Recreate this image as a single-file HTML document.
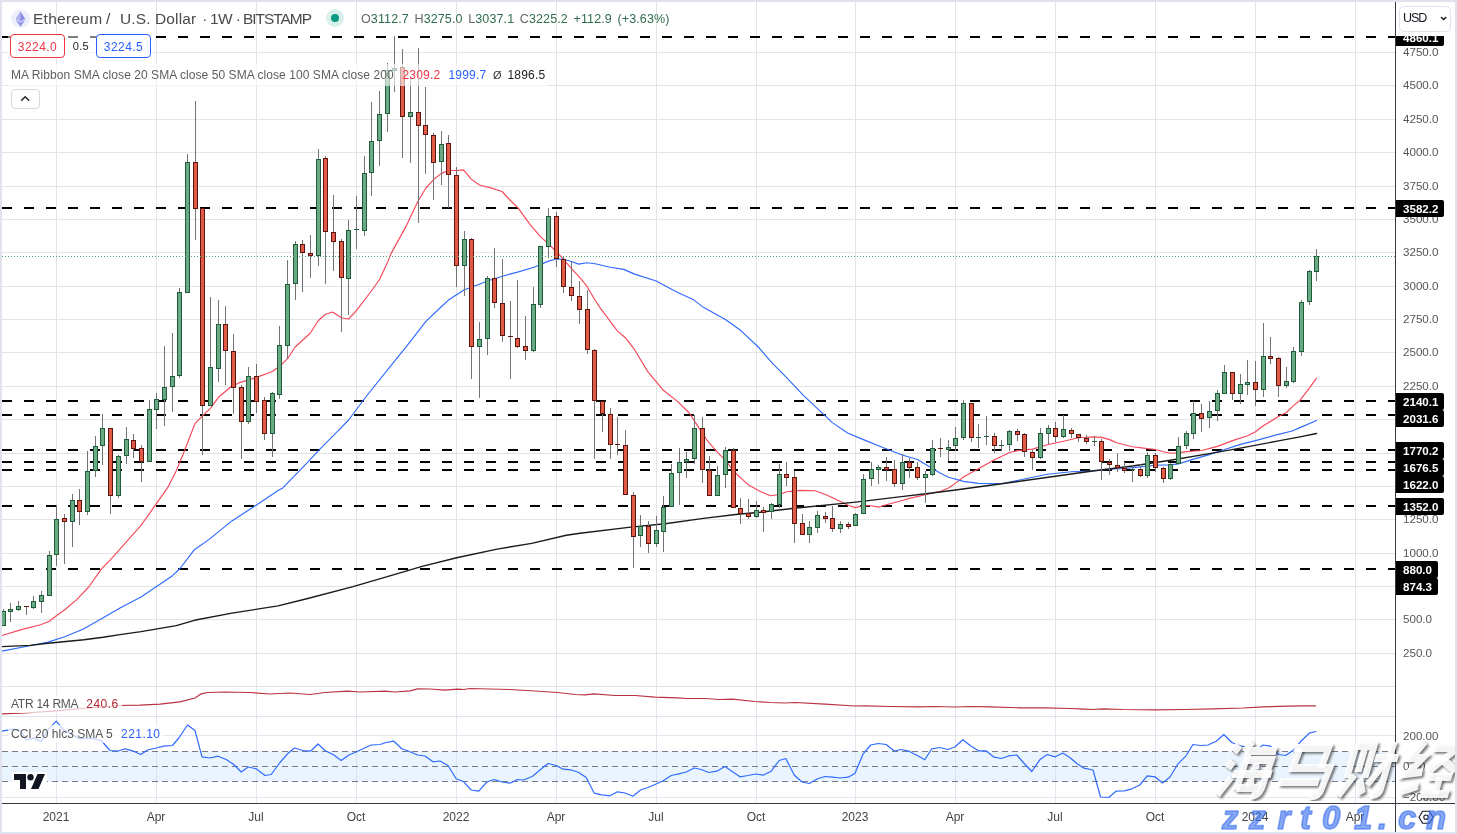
<!DOCTYPE html><html><head><meta charset="utf-8"><title>chart</title><style>
html,body{margin:0;padding:0;background:#fff;}
body{-webkit-font-smoothing:antialiased;width:1457px;height:834px;position:relative;overflow:hidden;font-family:"Liberation Sans",sans-serif;}
.abs{position:absolute;white-space:nowrap;}
#ov{position:absolute;left:0;top:0;width:1457px;height:834px;will-change:transform;}
.ax{position:absolute;left:1403px;font-size:11.6px;color:#555;line-height:14px;height:14px;white-space:nowrap;}
.lb{position:absolute;left:1395px;width:49px;height:17px;background:#000;color:#fff;font-weight:bold;font-size:11.6px;line-height:17px;border-radius:0 2px 2px 0;text-indent:8px;white-space:nowrap;}
.tx{position:absolute;top:810px;font-size:12px;color:#444;line-height:14px;width:60px;text-align:center;white-space:nowrap;}
</style></head><body>
<svg width="1457" height="834" viewBox="0 0 1457 834" style="position:absolute;left:0;top:0" shape-rendering="crispEdges">
<rect x="0" y="0" width="1457" height="834" fill="#fff"/>
<rect x="56" y="2" width="1" height="684" fill="#e4e4e4"/>
<rect x="56" y="687" width="1" height="116" fill="#e3e6ee"/>
<rect x="156" y="2" width="1" height="684" fill="#e4e4e4"/>
<rect x="156" y="687" width="1" height="116" fill="#e3e6ee"/>
<rect x="256" y="2" width="1" height="684" fill="#e4e4e4"/>
<rect x="256" y="687" width="1" height="116" fill="#e3e6ee"/>
<rect x="356" y="2" width="1" height="684" fill="#e4e4e4"/>
<rect x="356" y="687" width="1" height="116" fill="#e3e6ee"/>
<rect x="456" y="2" width="1" height="684" fill="#e4e4e4"/>
<rect x="456" y="687" width="1" height="116" fill="#e3e6ee"/>
<rect x="556" y="2" width="1" height="684" fill="#e4e4e4"/>
<rect x="556" y="687" width="1" height="116" fill="#e3e6ee"/>
<rect x="656" y="2" width="1" height="684" fill="#e4e4e4"/>
<rect x="656" y="687" width="1" height="116" fill="#e3e6ee"/>
<rect x="756" y="2" width="1" height="684" fill="#e4e4e4"/>
<rect x="756" y="687" width="1" height="116" fill="#e3e6ee"/>
<rect x="855" y="2" width="1" height="684" fill="#e4e4e4"/>
<rect x="855" y="687" width="1" height="116" fill="#e3e6ee"/>
<rect x="955" y="2" width="1" height="684" fill="#e4e4e4"/>
<rect x="955" y="687" width="1" height="116" fill="#e3e6ee"/>
<rect x="1055" y="2" width="1" height="684" fill="#e4e4e4"/>
<rect x="1055" y="687" width="1" height="116" fill="#e3e6ee"/>
<rect x="1155" y="2" width="1" height="684" fill="#e4e4e4"/>
<rect x="1155" y="687" width="1" height="116" fill="#e3e6ee"/>
<rect x="1255" y="2" width="1" height="684" fill="#e4e4e4"/>
<rect x="1255" y="687" width="1" height="116" fill="#e3e6ee"/>
<rect x="1355" y="2" width="1" height="684" fill="#e4e4e4"/>
<rect x="1355" y="687" width="1" height="116" fill="#e3e6ee"/>
<rect x="2" y="52" width="1393" height="1" fill="#e4e4e4"/>
<rect x="2" y="85" width="1393" height="1" fill="#e4e4e4"/>
<rect x="2" y="119" width="1393" height="1" fill="#e4e4e4"/>
<rect x="2" y="152" width="1393" height="1" fill="#e4e4e4"/>
<rect x="2" y="186" width="1393" height="1" fill="#e4e4e4"/>
<rect x="2" y="219" width="1393" height="1" fill="#e4e4e4"/>
<rect x="2" y="252" width="1393" height="1" fill="#e4e4e4"/>
<rect x="2" y="286" width="1393" height="1" fill="#e4e4e4"/>
<rect x="2" y="319" width="1393" height="1" fill="#e4e4e4"/>
<rect x="2" y="352" width="1393" height="1" fill="#e4e4e4"/>
<rect x="2" y="386" width="1393" height="1" fill="#e4e4e4"/>
<rect x="2" y="419" width="1393" height="1" fill="#e4e4e4"/>
<rect x="2" y="453" width="1393" height="1" fill="#e4e4e4"/>
<rect x="2" y="486" width="1393" height="1" fill="#e4e4e4"/>
<rect x="2" y="519" width="1393" height="1" fill="#e4e4e4"/>
<rect x="2" y="553" width="1393" height="1" fill="#e4e4e4"/>
<rect x="2" y="586" width="1393" height="1" fill="#e4e4e4"/>
<rect x="2" y="619" width="1393" height="1" fill="#e4e4e4"/>
<rect x="2" y="653" width="1393" height="1" fill="#e4e4e4"/>
<rect x="2" y="751" width="1393" height="31" fill="#e9f4fe"/>
<rect x="2" y="735" width="1393" height="1" fill="#e3e6ee"/>
<rect x="2" y="797" width="1393" height="1" fill="#e3e6ee"/>
<rect x="56" y="751" width="1" height="31" fill="#d9e3ee"/>
<rect x="156" y="751" width="1" height="31" fill="#d9e3ee"/>
<rect x="256" y="751" width="1" height="31" fill="#d9e3ee"/>
<rect x="356" y="751" width="1" height="31" fill="#d9e3ee"/>
<rect x="456" y="751" width="1" height="31" fill="#d9e3ee"/>
<rect x="556" y="751" width="1" height="31" fill="#d9e3ee"/>
<rect x="656" y="751" width="1" height="31" fill="#d9e3ee"/>
<rect x="756" y="751" width="1" height="31" fill="#d9e3ee"/>
<rect x="855" y="751" width="1" height="31" fill="#d9e3ee"/>
<rect x="955" y="751" width="1" height="31" fill="#d9e3ee"/>
<rect x="1055" y="751" width="1" height="31" fill="#d9e3ee"/>
<rect x="1155" y="751" width="1" height="31" fill="#d9e3ee"/>
<rect x="1255" y="751" width="1" height="31" fill="#d9e3ee"/>
<rect x="1355" y="751" width="1" height="31" fill="#d9e3ee"/>
<rect x="2" y="686" width="1453" height="1" fill="#e0e3eb"/>
<rect x="2" y="716" width="1453" height="1" fill="#e0e3eb"/>
<line x1="2" y1="751.5" x2="1395" y2="751.5" stroke="#787b86" stroke-width="1" stroke-dasharray="6 4"/>
<line x1="2" y1="766.5" x2="1395" y2="766.5" stroke="#787b86" stroke-width="1" stroke-dasharray="6 4"/>
<line x1="2" y1="781.5" x2="1395" y2="781.5" stroke="#787b86" stroke-width="1" stroke-dasharray="6 4"/>
<line x1="2" y1="37" x2="1395" y2="37" stroke="#000" stroke-width="2" stroke-dasharray="10 12"/>
<line x1="2" y1="208" x2="1395" y2="208" stroke="#000" stroke-width="2" stroke-dasharray="10 12"/>
<line x1="2" y1="401" x2="1395" y2="401" stroke="#000" stroke-width="2" stroke-dasharray="10 12"/>
<line x1="2" y1="415" x2="1395" y2="415" stroke="#000" stroke-width="2" stroke-dasharray="10 12"/>
<line x1="2" y1="450" x2="1395" y2="450" stroke="#000" stroke-width="2" stroke-dasharray="10 12"/>
<line x1="2" y1="462" x2="1395" y2="462" stroke="#000" stroke-width="2" stroke-dasharray="10 12"/>
<line x1="2" y1="470" x2="1395" y2="470" stroke="#000" stroke-width="2" stroke-dasharray="10 12"/>
<line x1="2" y1="506" x2="1395" y2="506" stroke="#000" stroke-width="2" stroke-dasharray="10 12"/>
<line x1="2" y1="569" x2="1395" y2="569" stroke="#000" stroke-width="2" stroke-dasharray="10 12"/>
</svg>
<svg width="1457" height="834" viewBox="0 0 1457 834" style="position:absolute;left:0;top:0">
<polyline points="1.8,635.5 24.0,628.9 40.8,624.7 49.2,621.2 56.4,615.8 64.7,609.8 76.7,599.6 88.7,587.0 101.9,568.4 110.8,559.3 141.0,525.3 156.2,503.9 167.5,487.9 175.7,472.1 183.9,452.2 194.9,423.7 202.5,415.9 210.4,408.3 218.5,397.3 230.6,387.0 238.8,382.9 256.4,377.4 271.8,371.8 280.0,366.0 287.6,358.7 295.1,347.0 310.2,333.3 318.4,320.5 325.5,314.2 332.5,312.0 341.5,317.8 348.6,319.0 356.6,310.4 371.7,290.5 379.5,279.5 387.5,262.4 390.9,253.9 406.7,225.1 417.7,201.8 425.9,188.0 433.4,179.8 441.0,173.6 448.5,170.5 456.5,170.5 463.6,169.9 471.2,179.1 479.4,185.0 490.0,187.6 502.0,191.5 510.0,200.0 518.2,208.2 529.2,223.3 540.2,236.4 548.4,243.9 556.4,251.5 563.5,259.3 571.5,268.6 579.3,276.9 586.6,285.8 595.1,300.2 600.0,307.6 617.3,330.9 625.9,338.3 634.6,349.7 647.6,371.4 662.7,389.7 677.8,401.6 689.7,413.5 697.3,425.4 707.7,441.2 717.3,452.2 725.5,460.4 735.1,472.8 748.6,485.1 759.8,491.3 770.3,495.7 779.4,494.5 786.5,491.8 801.2,490.4 814.9,490.8 825.5,494.5 840.4,501.4 848.5,505.5 855.7,507.6 863.6,505.5 871.5,505.8 878.5,507.1 886.4,504.8 901.5,500.7 909.5,498.4 925.4,494.8 940.5,491.2 948.5,488.0 955.5,483.1 963.5,477.0 978.3,468.7 994.5,459.8 1009.6,452.5 1017.4,450.6 1032.5,449.1 1047.4,444.7 1063.4,441.3 1078.5,437.8 1094.4,436.9 1101.6,437.4 1109.5,439.6 1117.5,443.0 1132.5,446.8 1147.4,448.6 1155.5,449.5 1163.4,451.8 1171.4,453.2 1178.5,452.9 1186.5,451.6 1201.6,450.5 1217.4,446.4 1232.5,440.6 1247.6,435.8 1255.5,431.7 1263.3,425.8 1278.4,416.6 1286.4,412.5 1293.5,405.6 1300.0,400.3 1309.5,387.8 1316.5,378.2" fill="none" stroke="#f5475a" stroke-width="1.15" stroke-linejoin="round" stroke-linecap="round"/>
<polyline points="1.8,651.1 30.0,645.7 48.0,642.1 64.7,636.7 83.5,629.0 103.2,617.8 120.0,608.0 141.0,597.1 172.5,575.7 180.0,568.5 194.4,549.7 208.8,539.6 231.9,520.9 255.0,505.9 278.0,490.6 282.8,487.9 306.8,463.2 318.4,450.6 340.0,428.9 348.6,420.0 365.0,398.0 392.3,363.9 406.7,346.1 425.9,321.4 441.0,307.0 448.5,300.1 464.3,289.8 471.6,287.3 487.4,281.0 502.5,276.2 517.6,272.1 534.7,267.0 548.4,261.1 556.4,259.0 563.5,259.3 571.5,261.5 578.6,264.1 586.6,262.7 595.1,263.8 610.2,267.3 623.8,269.4 634.6,274.1 656.2,281.0 675.7,291.4 693.0,299.4 703.8,307.6 725.4,319.5 740.5,330.3 757.8,346.5 773.0,363.8 785.9,376.8 803.2,395.1 824.9,415.7 832.4,422.6 847.6,433.0 861.6,438.9 883.5,447.8 901.5,454.7 917.4,459.5 932.5,468.4 940.5,473.2 948.5,477.2 963.5,481.4 978.3,483.4 1001.4,483.8 1024.4,479.0 1047.4,474.2 1071.4,471.8 1094.4,470.8 1109.5,469.3 1124.4,468.5 1140.5,466.9 1155.5,465.3 1170.4,464.9 1178.5,463.9 1193.6,459.1 1209.4,454.6 1224.5,449.5 1240.4,444.4 1255.5,440.6 1278.4,434.4 1292.2,431.0 1300.0,427.6 1316.5,420.5" fill="none" stroke="#2f6bff" stroke-width="1.15" stroke-linejoin="round" stroke-linecap="round"/>
<polyline points="1.8,646.6 30.0,645.4 48.0,643.3 83.9,639.7 103.1,637.3 120.0,634.6 141.0,631.6 176.3,625.6 194.4,620.3 231.9,613.1 278.0,605.9 306.8,598.7 353.0,586.6 393.3,574.8 422.1,566.4 456.7,557.8 497.1,549.1 531.7,543.4 566.3,535.3 580.0,533.3 630.8,527.1 665.1,523.7 703.5,518.4 737.9,514.3 760.0,512.3 794.3,508.2 855.7,502.1 901.5,496.6 930.0,493.2 955.5,490.0 1001.4,483.8 1055.3,476.3 1094.4,470.8 1132.5,466.0 1170.4,460.2 1209.4,453.6 1240.4,448.1 1278.4,440.9 1300.0,436.9 1316.5,433.5" fill="none" stroke="#1a1a1a" stroke-width="1.4" stroke-linejoin="round" stroke-linecap="round"/>
<polyline points="2.0,713.8 25.0,713.0 56.2,710.8 87.5,708.0 117.5,705.5 140.0,705.2 160.0,704.2 180.0,701.8 195.0,698.0 201.2,693.8 207.5,692.5 225.0,692.0 250.0,692.5 270.0,694.0 290.0,693.0 310.0,694.5 325.0,692.5 347.5,691.2 360.0,692.0 385.0,691.2 395.0,692.0 410.0,690.8 417.5,688.8 430.0,689.0 445.0,690.2 457.5,689.2 463.8,689.5 470.0,688.5 490.0,689.0 510.0,689.5 535.0,691.0 557.5,692.5 575.0,694.5 585.0,694.8 593.8,693.8 615.0,695.5 635.0,695.5 655.0,697.2 677.5,697.8 687.5,698.5 705.0,698.5 720.0,699.5 732.5,699.2 755.0,701.5 770.0,702.5 785.0,703.0 795.0,702.5 825.0,704.2 855.0,706.0 865.0,705.8 890.0,706.5 920.0,706.8 932.5,706.5 955.0,707.0 970.0,706.5 990.0,706.8 1020.0,707.8 1045.0,707.8 1070.0,708.5 1084.0,709.2 1093.0,709.5 1103.0,708.8 1123.0,709.5 1155.5,709.8 1185.5,709.5 1213.0,708.8 1243.0,708.0 1263.0,706.8 1288.0,706.2 1303.0,705.8 1315.5,705.8" fill="none" stroke="#b8323f" stroke-width="1.2" stroke-linejoin="round" stroke-linecap="round"/>
<polyline points="2.0,731.2 12.5,729.2 20.0,730.0 26.2,740.0 33.8,738.2 41.2,741.5 48.8,728.8 56.2,721.2 63.8,730.0 71.2,733.8 78.8,738.8 86.2,738.0 93.8,738.8 101.2,740.5 110.0,750.5 117.5,751.2 125.0,748.8 132.5,750.8 140.8,754.5 147.5,750.0 156.2,748.0 163.8,746.2 172.5,745.5 178.8,738.0 187.5,725.0 195.0,730.5 202.0,756.8 210.0,758.0 218.0,756.2 226.2,759.5 233.8,764.5 241.2,772.0 248.2,767.0 256.2,768.8 265.0,775.5 271.2,774.5 280.0,762.5 287.5,753.8 294.5,748.0 302.5,750.5 310.5,751.2 318.0,744.0 325.0,750.5 333.8,755.0 341.2,760.5 348.8,755.0 356.2,752.0 364.0,748.2 371.2,745.0 380.0,744.5 386.2,742.5 393.8,741.2 401.8,748.8 410.0,751.8 417.5,755.0 425.0,756.0 433.0,761.8 440.0,761.0 448.0,765.5 456.2,778.8 463.8,781.8 471.2,790.0 478.8,791.2 486.8,782.0 494.2,779.5 502.0,782.0 510.0,783.2 517.5,779.5 523.8,780.0 532.5,776.2 540.5,769.5 548.2,763.5 556.2,765.5 563.2,769.2 570.8,769.8 578.8,772.5 586.2,777.5 594.2,793.2 601.8,794.8 610.0,795.8 617.5,791.8 625.0,793.0 633.0,796.2 640.5,790.0 648.0,787.5 655.5,784.2 663.2,780.8 671.2,775.5 678.8,773.8 686.2,772.0 694.2,768.0 701.2,769.5 708.8,772.5 716.8,771.2 725.0,766.5 732.5,771.8 740.0,776.8 748.0,775.5 755.8,774.0 763.0,775.2 771.2,771.2 779.2,760.5 785.8,758.5 794.2,775.0 802.0,782.0 809.2,783.5 817.5,778.8 825.0,776.5 832.5,777.2 840.0,778.0 848.2,777.2 855.0,773.2 863.0,754.2 870.8,745.0 878.2,743.5 886.2,744.5 894.2,751.0 901.2,749.5 909.0,751.2 917.2,755.5 924.8,759.8 931.8,748.8 939.8,747.5 947.8,749.5 954.8,747.0 962.8,739.8 970.5,745.8 978.5,750.8 986.0,750.8 994.0,757.2 1001.5,758.5 1009.0,755.8 1016.8,755.0 1024.2,763.5 1031.8,771.5 1039.8,759.8 1047.2,754.5 1055.2,756.8 1062.8,753.0 1069.8,757.5 1077.2,763.8 1084.0,768.2 1093.0,770.0 1100.5,797.0 1108.8,797.5 1116.0,791.2 1124.2,790.8 1131.8,788.8 1139.8,785.0 1147.2,775.8 1155.0,776.8 1162.5,783.0 1170.0,777.0 1178.0,763.8 1186.0,755.8 1193.0,744.5 1200.5,745.5 1208.0,745.0 1216.2,741.2 1223.8,734.5 1231.8,742.5 1239.8,745.8 1247.2,747.0 1255.0,751.2 1263.0,745.0 1270.5,746.2 1278.5,754.5 1285.5,755.5 1293.0,750.5 1301.0,741.2 1309.2,733.2 1316.0,731.5" fill="none" stroke="#2f6bff" stroke-width="1.2" stroke-linejoin="round" stroke-linecap="round"/>
</svg>
<svg width="1457" height="834" viewBox="0 0 1457 834" style="position:absolute;left:0;top:0" shape-rendering="crispEdges">
<rect x="3" y="609" width="1" height="17" fill="#737373"/>
<rect x="1" y="611" width="5" height="15" fill="#1f5c3a"/>
<rect x="2" y="612" width="3" height="13" fill="#6aa984"/>
<rect x="10" y="603" width="1" height="19" fill="#737373"/>
<rect x="8" y="609" width="5" height="3" fill="#1f5c3a"/>
<rect x="9" y="610" width="3" height="1" fill="#6aa984"/>
<rect x="18" y="601" width="1" height="10" fill="#737373"/>
<rect x="16" y="606" width="5" height="4" fill="#1f5c3a"/>
<rect x="17" y="607" width="3" height="2" fill="#6aa984"/>
<rect x="26" y="606" width="1" height="9" fill="#737373"/>
<rect x="24" y="606" width="5" height="1" fill="#5c1510"/>
<rect x="33" y="596" width="1" height="13" fill="#737373"/>
<rect x="31" y="601" width="5" height="7" fill="#1f5c3a"/>
<rect x="32" y="602" width="3" height="5" fill="#6aa984"/>
<rect x="41" y="591" width="1" height="22" fill="#737373"/>
<rect x="39" y="595" width="5" height="7" fill="#1f5c3a"/>
<rect x="40" y="596" width="3" height="5" fill="#6aa984"/>
<rect x="49" y="551" width="1" height="45" fill="#737373"/>
<rect x="47" y="555" width="5" height="41" fill="#1f5c3a"/>
<rect x="48" y="556" width="3" height="39" fill="#6aa984"/>
<rect x="56" y="505" width="1" height="61" fill="#737373"/>
<rect x="54" y="519" width="5" height="36" fill="#1f5c3a"/>
<rect x="55" y="520" width="3" height="34" fill="#6aa984"/>
<rect x="64" y="514" width="1" height="50" fill="#737373"/>
<rect x="62" y="518" width="5" height="4" fill="#5c1510"/>
<rect x="63" y="519" width="3" height="2" fill="#e05a46"/>
<rect x="72" y="494" width="1" height="53" fill="#737373"/>
<rect x="70" y="500" width="5" height="22" fill="#1f5c3a"/>
<rect x="71" y="501" width="3" height="20" fill="#6aa984"/>
<rect x="79" y="489" width="1" height="36" fill="#737373"/>
<rect x="77" y="500" width="5" height="12" fill="#5c1510"/>
<rect x="78" y="501" width="3" height="10" fill="#e05a46"/>
<rect x="87" y="451" width="1" height="64" fill="#737373"/>
<rect x="85" y="471" width="5" height="41" fill="#1f5c3a"/>
<rect x="86" y="472" width="3" height="39" fill="#6aa984"/>
<rect x="95" y="436" width="1" height="41" fill="#737373"/>
<rect x="93" y="446" width="5" height="25" fill="#1f5c3a"/>
<rect x="94" y="447" width="3" height="23" fill="#6aa984"/>
<rect x="102" y="414" width="1" height="51" fill="#737373"/>
<rect x="100" y="428" width="5" height="18" fill="#1f5c3a"/>
<rect x="101" y="429" width="3" height="16" fill="#6aa984"/>
<rect x="110" y="428" width="1" height="86" fill="#737373"/>
<rect x="108" y="428" width="5" height="68" fill="#5c1510"/>
<rect x="109" y="429" width="3" height="66" fill="#e05a46"/>
<rect x="118" y="455" width="1" height="43" fill="#737373"/>
<rect x="116" y="456" width="5" height="40" fill="#1f5c3a"/>
<rect x="117" y="457" width="3" height="38" fill="#6aa984"/>
<rect x="126" y="427" width="1" height="37" fill="#737373"/>
<rect x="124" y="439" width="5" height="17" fill="#1f5c3a"/>
<rect x="125" y="440" width="3" height="15" fill="#6aa984"/>
<rect x="133" y="434" width="1" height="24" fill="#737373"/>
<rect x="131" y="440" width="5" height="9" fill="#5c1510"/>
<rect x="132" y="441" width="3" height="7" fill="#e05a46"/>
<rect x="141" y="445" width="1" height="37" fill="#737373"/>
<rect x="139" y="448" width="5" height="14" fill="#5c1510"/>
<rect x="140" y="449" width="3" height="12" fill="#e05a46"/>
<rect x="149" y="400" width="1" height="62" fill="#737373"/>
<rect x="147" y="409" width="5" height="53" fill="#1f5c3a"/>
<rect x="148" y="410" width="3" height="51" fill="#6aa984"/>
<rect x="156" y="393" width="1" height="36" fill="#737373"/>
<rect x="154" y="399" width="5" height="11" fill="#1f5c3a"/>
<rect x="155" y="400" width="3" height="9" fill="#6aa984"/>
<rect x="164" y="346" width="1" height="80" fill="#737373"/>
<rect x="162" y="387" width="5" height="13" fill="#1f5c3a"/>
<rect x="163" y="388" width="3" height="11" fill="#6aa984"/>
<rect x="172" y="333" width="1" height="79" fill="#737373"/>
<rect x="170" y="376" width="5" height="11" fill="#1f5c3a"/>
<rect x="171" y="377" width="3" height="9" fill="#6aa984"/>
<rect x="179" y="288" width="1" height="90" fill="#737373"/>
<rect x="177" y="292" width="5" height="84" fill="#1f5c3a"/>
<rect x="178" y="293" width="3" height="82" fill="#6aa984"/>
<rect x="187" y="154" width="1" height="139" fill="#737373"/>
<rect x="185" y="162" width="5" height="131" fill="#1f5c3a"/>
<rect x="186" y="163" width="3" height="129" fill="#6aa984"/>
<rect x="195" y="101" width="1" height="139" fill="#737373"/>
<rect x="193" y="162" width="5" height="47" fill="#5c1510"/>
<rect x="194" y="163" width="3" height="45" fill="#e05a46"/>
<rect x="202" y="208" width="1" height="247" fill="#737373"/>
<rect x="200" y="208" width="5" height="198" fill="#5c1510"/>
<rect x="201" y="209" width="3" height="196" fill="#e05a46"/>
<rect x="210" y="297" width="1" height="109" fill="#737373"/>
<rect x="208" y="367" width="5" height="39" fill="#1f5c3a"/>
<rect x="209" y="368" width="3" height="37" fill="#6aa984"/>
<rect x="218" y="300" width="1" height="82" fill="#737373"/>
<rect x="216" y="324" width="5" height="45" fill="#1f5c3a"/>
<rect x="217" y="325" width="3" height="43" fill="#6aa984"/>
<rect x="225" y="306" width="1" height="79" fill="#737373"/>
<rect x="223" y="324" width="5" height="27" fill="#5c1510"/>
<rect x="224" y="325" width="3" height="25" fill="#e05a46"/>
<rect x="233" y="334" width="1" height="80" fill="#737373"/>
<rect x="231" y="351" width="5" height="37" fill="#5c1510"/>
<rect x="232" y="352" width="3" height="35" fill="#e05a46"/>
<rect x="241" y="385" width="1" height="74" fill="#737373"/>
<rect x="239" y="387" width="5" height="35" fill="#5c1510"/>
<rect x="240" y="388" width="3" height="33" fill="#e05a46"/>
<rect x="248" y="367" width="1" height="57" fill="#737373"/>
<rect x="246" y="376" width="5" height="46" fill="#1f5c3a"/>
<rect x="247" y="377" width="3" height="44" fill="#6aa984"/>
<rect x="256" y="364" width="1" height="49" fill="#737373"/>
<rect x="254" y="376" width="5" height="26" fill="#5c1510"/>
<rect x="255" y="377" width="3" height="24" fill="#e05a46"/>
<rect x="264" y="397" width="1" height="43" fill="#737373"/>
<rect x="262" y="400" width="5" height="34" fill="#5c1510"/>
<rect x="263" y="401" width="3" height="32" fill="#e05a46"/>
<rect x="272" y="392" width="1" height="65" fill="#737373"/>
<rect x="270" y="393" width="5" height="41" fill="#1f5c3a"/>
<rect x="271" y="394" width="3" height="39" fill="#6aa984"/>
<rect x="279" y="326" width="1" height="73" fill="#737373"/>
<rect x="277" y="345" width="5" height="50" fill="#1f5c3a"/>
<rect x="278" y="346" width="3" height="48" fill="#6aa984"/>
<rect x="287" y="260" width="1" height="99" fill="#737373"/>
<rect x="285" y="284" width="5" height="62" fill="#1f5c3a"/>
<rect x="286" y="285" width="3" height="60" fill="#6aa984"/>
<rect x="295" y="241" width="1" height="59" fill="#737373"/>
<rect x="293" y="244" width="5" height="40" fill="#1f5c3a"/>
<rect x="294" y="245" width="3" height="38" fill="#6aa984"/>
<rect x="302" y="240" width="1" height="52" fill="#737373"/>
<rect x="300" y="244" width="5" height="9" fill="#5c1510"/>
<rect x="301" y="245" width="3" height="7" fill="#e05a46"/>
<rect x="310" y="235" width="1" height="43" fill="#737373"/>
<rect x="308" y="253" width="5" height="3" fill="#5c1510"/>
<rect x="309" y="254" width="3" height="1" fill="#e05a46"/>
<rect x="318" y="149" width="1" height="117" fill="#737373"/>
<rect x="316" y="159" width="5" height="97" fill="#1f5c3a"/>
<rect x="317" y="160" width="3" height="95" fill="#6aa984"/>
<rect x="325" y="156" width="1" height="128" fill="#737373"/>
<rect x="323" y="158" width="5" height="74" fill="#5c1510"/>
<rect x="324" y="159" width="3" height="72" fill="#e05a46"/>
<rect x="333" y="195" width="1" height="76" fill="#737373"/>
<rect x="331" y="232" width="5" height="10" fill="#5c1510"/>
<rect x="332" y="233" width="3" height="8" fill="#e05a46"/>
<rect x="341" y="239" width="1" height="93" fill="#737373"/>
<rect x="339" y="241" width="5" height="37" fill="#5c1510"/>
<rect x="340" y="242" width="3" height="35" fill="#e05a46"/>
<rect x="348" y="220" width="1" height="95" fill="#737373"/>
<rect x="346" y="230" width="5" height="49" fill="#1f5c3a"/>
<rect x="347" y="231" width="3" height="47" fill="#6aa984"/>
<rect x="356" y="196" width="1" height="53" fill="#737373"/>
<rect x="354" y="229" width="5" height="1" fill="#1f5c3a"/>
<rect x="364" y="156" width="1" height="80" fill="#737373"/>
<rect x="362" y="173" width="5" height="58" fill="#1f5c3a"/>
<rect x="363" y="174" width="3" height="56" fill="#6aa984"/>
<rect x="371" y="102" width="1" height="94" fill="#737373"/>
<rect x="369" y="141" width="5" height="32" fill="#1f5c3a"/>
<rect x="370" y="142" width="3" height="30" fill="#6aa984"/>
<rect x="379" y="91" width="1" height="75" fill="#737373"/>
<rect x="377" y="114" width="5" height="27" fill="#1f5c3a"/>
<rect x="378" y="115" width="3" height="25" fill="#6aa984"/>
<rect x="387" y="63" width="1" height="69" fill="#737373"/>
<rect x="385" y="70" width="5" height="44" fill="#1f5c3a"/>
<rect x="386" y="71" width="3" height="42" fill="#6aa984"/>
<rect x="394" y="36" width="1" height="56" fill="#737373"/>
<rect x="392" y="68" width="5" height="3" fill="#1f5c3a"/>
<rect x="393" y="69" width="3" height="1" fill="#6aa984"/>
<rect x="402" y="49" width="1" height="109" fill="#737373"/>
<rect x="400" y="67" width="5" height="50" fill="#5c1510"/>
<rect x="401" y="68" width="3" height="48" fill="#e05a46"/>
<rect x="410" y="77" width="1" height="86" fill="#737373"/>
<rect x="408" y="112" width="5" height="5" fill="#1f5c3a"/>
<rect x="409" y="113" width="3" height="3" fill="#6aa984"/>
<rect x="418" y="48" width="1" height="175" fill="#737373"/>
<rect x="416" y="112" width="5" height="14" fill="#5c1510"/>
<rect x="417" y="113" width="3" height="12" fill="#e05a46"/>
<rect x="425" y="87" width="1" height="87" fill="#737373"/>
<rect x="423" y="125" width="5" height="10" fill="#5c1510"/>
<rect x="424" y="126" width="3" height="8" fill="#e05a46"/>
<rect x="433" y="133" width="1" height="67" fill="#737373"/>
<rect x="431" y="135" width="5" height="28" fill="#5c1510"/>
<rect x="432" y="136" width="3" height="26" fill="#e05a46"/>
<rect x="441" y="131" width="1" height="54" fill="#737373"/>
<rect x="439" y="144" width="5" height="18" fill="#1f5c3a"/>
<rect x="440" y="145" width="3" height="16" fill="#6aa984"/>
<rect x="448" y="135" width="1" height="73" fill="#737373"/>
<rect x="446" y="143" width="5" height="32" fill="#5c1510"/>
<rect x="447" y="144" width="3" height="30" fill="#e05a46"/>
<rect x="456" y="167" width="1" height="120" fill="#737373"/>
<rect x="454" y="175" width="5" height="91" fill="#5c1510"/>
<rect x="455" y="176" width="3" height="89" fill="#e05a46"/>
<rect x="464" y="231" width="1" height="65" fill="#737373"/>
<rect x="462" y="239" width="5" height="27" fill="#1f5c3a"/>
<rect x="463" y="240" width="3" height="25" fill="#6aa984"/>
<rect x="471" y="238" width="1" height="141" fill="#737373"/>
<rect x="469" y="239" width="5" height="108" fill="#5c1510"/>
<rect x="470" y="240" width="3" height="106" fill="#e05a46"/>
<rect x="479" y="322" width="1" height="76" fill="#737373"/>
<rect x="477" y="339" width="5" height="8" fill="#1f5c3a"/>
<rect x="478" y="340" width="3" height="6" fill="#6aa984"/>
<rect x="487" y="276" width="1" height="79" fill="#737373"/>
<rect x="485" y="278" width="5" height="61" fill="#1f5c3a"/>
<rect x="486" y="279" width="3" height="59" fill="#6aa984"/>
<rect x="494" y="248" width="1" height="60" fill="#737373"/>
<rect x="492" y="278" width="5" height="25" fill="#5c1510"/>
<rect x="493" y="279" width="3" height="23" fill="#e05a46"/>
<rect x="502" y="259" width="1" height="83" fill="#737373"/>
<rect x="500" y="303" width="5" height="33" fill="#5c1510"/>
<rect x="501" y="304" width="3" height="31" fill="#e05a46"/>
<rect x="510" y="301" width="1" height="78" fill="#737373"/>
<rect x="508" y="336" width="5" height="1" fill="#5c1510"/>
<rect x="517" y="280" width="1" height="68" fill="#737373"/>
<rect x="515" y="338" width="5" height="9" fill="#5c1510"/>
<rect x="516" y="339" width="3" height="7" fill="#e05a46"/>
<rect x="525" y="316" width="1" height="44" fill="#737373"/>
<rect x="523" y="346" width="5" height="5" fill="#5c1510"/>
<rect x="524" y="347" width="3" height="3" fill="#e05a46"/>
<rect x="533" y="287" width="1" height="65" fill="#737373"/>
<rect x="531" y="304" width="5" height="47" fill="#1f5c3a"/>
<rect x="532" y="305" width="3" height="45" fill="#6aa984"/>
<rect x="540" y="246" width="1" height="62" fill="#737373"/>
<rect x="538" y="246" width="5" height="59" fill="#1f5c3a"/>
<rect x="539" y="247" width="3" height="57" fill="#6aa984"/>
<rect x="548" y="208" width="1" height="50" fill="#737373"/>
<rect x="546" y="216" width="5" height="31" fill="#1f5c3a"/>
<rect x="547" y="217" width="3" height="29" fill="#6aa984"/>
<rect x="556" y="212" width="1" height="55" fill="#737373"/>
<rect x="554" y="216" width="5" height="43" fill="#5c1510"/>
<rect x="555" y="217" width="3" height="41" fill="#e05a46"/>
<rect x="563" y="256" width="1" height="37" fill="#737373"/>
<rect x="561" y="259" width="5" height="28" fill="#5c1510"/>
<rect x="562" y="260" width="3" height="26" fill="#e05a46"/>
<rect x="571" y="262" width="1" height="39" fill="#737373"/>
<rect x="569" y="287" width="5" height="9" fill="#5c1510"/>
<rect x="570" y="288" width="3" height="7" fill="#e05a46"/>
<rect x="579" y="281" width="1" height="43" fill="#737373"/>
<rect x="577" y="296" width="5" height="14" fill="#5c1510"/>
<rect x="578" y="297" width="3" height="12" fill="#e05a46"/>
<rect x="587" y="290" width="1" height="64" fill="#737373"/>
<rect x="585" y="309" width="5" height="41" fill="#5c1510"/>
<rect x="586" y="310" width="3" height="39" fill="#e05a46"/>
<rect x="594" y="349" width="1" height="110" fill="#737373"/>
<rect x="592" y="350" width="5" height="51" fill="#5c1510"/>
<rect x="593" y="351" width="3" height="49" fill="#e05a46"/>
<rect x="602" y="401" width="1" height="31" fill="#737373"/>
<rect x="600" y="401" width="5" height="13" fill="#5c1510"/>
<rect x="601" y="402" width="3" height="11" fill="#e05a46"/>
<rect x="610" y="408" width="1" height="51" fill="#737373"/>
<rect x="608" y="414" width="5" height="31" fill="#5c1510"/>
<rect x="609" y="415" width="3" height="29" fill="#e05a46"/>
<rect x="617" y="417" width="1" height="38" fill="#737373"/>
<rect x="615" y="444" width="5" height="1" fill="#5c1510"/>
<rect x="625" y="430" width="1" height="65" fill="#737373"/>
<rect x="623" y="445" width="5" height="50" fill="#5c1510"/>
<rect x="624" y="446" width="3" height="48" fill="#e05a46"/>
<rect x="633" y="492" width="1" height="76" fill="#737373"/>
<rect x="631" y="495" width="5" height="42" fill="#5c1510"/>
<rect x="632" y="496" width="3" height="40" fill="#e05a46"/>
<rect x="640" y="515" width="1" height="32" fill="#737373"/>
<rect x="638" y="526" width="5" height="10" fill="#1f5c3a"/>
<rect x="639" y="527" width="3" height="8" fill="#6aa984"/>
<rect x="648" y="521" width="1" height="32" fill="#737373"/>
<rect x="646" y="526" width="5" height="18" fill="#5c1510"/>
<rect x="647" y="527" width="3" height="16" fill="#e05a46"/>
<rect x="656" y="516" width="1" height="31" fill="#737373"/>
<rect x="654" y="530" width="5" height="14" fill="#1f5c3a"/>
<rect x="655" y="531" width="3" height="12" fill="#6aa984"/>
<rect x="663" y="496" width="1" height="56" fill="#737373"/>
<rect x="661" y="507" width="5" height="25" fill="#1f5c3a"/>
<rect x="662" y="508" width="3" height="23" fill="#6aa984"/>
<rect x="671" y="464" width="1" height="43" fill="#737373"/>
<rect x="669" y="473" width="5" height="34" fill="#1f5c3a"/>
<rect x="670" y="474" width="3" height="32" fill="#6aa984"/>
<rect x="679" y="448" width="1" height="57" fill="#737373"/>
<rect x="677" y="462" width="5" height="11" fill="#1f5c3a"/>
<rect x="678" y="463" width="3" height="9" fill="#6aa984"/>
<rect x="686" y="452" width="1" height="26" fill="#737373"/>
<rect x="684" y="459" width="5" height="3" fill="#1f5c3a"/>
<rect x="685" y="460" width="3" height="1" fill="#6aa984"/>
<rect x="694" y="415" width="1" height="49" fill="#737373"/>
<rect x="692" y="428" width="5" height="31" fill="#1f5c3a"/>
<rect x="693" y="429" width="3" height="29" fill="#6aa984"/>
<rect x="702" y="417" width="1" height="66" fill="#737373"/>
<rect x="700" y="428" width="5" height="42" fill="#5c1510"/>
<rect x="701" y="429" width="3" height="40" fill="#e05a46"/>
<rect x="709" y="456" width="1" height="40" fill="#737373"/>
<rect x="707" y="470" width="5" height="26" fill="#5c1510"/>
<rect x="708" y="471" width="3" height="24" fill="#e05a46"/>
<rect x="717" y="466" width="1" height="30" fill="#737373"/>
<rect x="715" y="475" width="5" height="21" fill="#1f5c3a"/>
<rect x="716" y="476" width="3" height="19" fill="#6aa984"/>
<rect x="725" y="447" width="1" height="41" fill="#737373"/>
<rect x="723" y="450" width="5" height="25" fill="#1f5c3a"/>
<rect x="724" y="451" width="3" height="23" fill="#6aa984"/>
<rect x="733" y="448" width="1" height="60" fill="#737373"/>
<rect x="731" y="450" width="5" height="58" fill="#5c1510"/>
<rect x="732" y="451" width="3" height="56" fill="#e05a46"/>
<rect x="740" y="498" width="1" height="26" fill="#737373"/>
<rect x="738" y="508" width="5" height="6" fill="#5c1510"/>
<rect x="739" y="509" width="3" height="4" fill="#e05a46"/>
<rect x="748" y="499" width="1" height="20" fill="#737373"/>
<rect x="746" y="513" width="5" height="4" fill="#5c1510"/>
<rect x="747" y="514" width="3" height="2" fill="#e05a46"/>
<rect x="756" y="501" width="1" height="17" fill="#737373"/>
<rect x="754" y="510" width="5" height="7" fill="#1f5c3a"/>
<rect x="755" y="511" width="3" height="5" fill="#6aa984"/>
<rect x="763" y="507" width="1" height="25" fill="#737373"/>
<rect x="761" y="510" width="5" height="3" fill="#5c1510"/>
<rect x="762" y="511" width="3" height="1" fill="#e05a46"/>
<rect x="771" y="503" width="1" height="16" fill="#737373"/>
<rect x="769" y="504" width="5" height="8" fill="#1f5c3a"/>
<rect x="770" y="505" width="3" height="6" fill="#6aa984"/>
<rect x="779" y="464" width="1" height="44" fill="#737373"/>
<rect x="777" y="474" width="5" height="31" fill="#1f5c3a"/>
<rect x="778" y="475" width="3" height="29" fill="#6aa984"/>
<rect x="786" y="462" width="1" height="24" fill="#737373"/>
<rect x="784" y="474" width="5" height="4" fill="#5c1510"/>
<rect x="785" y="475" width="3" height="2" fill="#e05a46"/>
<rect x="794" y="471" width="1" height="72" fill="#737373"/>
<rect x="792" y="477" width="5" height="47" fill="#5c1510"/>
<rect x="793" y="478" width="3" height="45" fill="#e05a46"/>
<rect x="802" y="514" width="1" height="21" fill="#737373"/>
<rect x="800" y="523" width="5" height="12" fill="#5c1510"/>
<rect x="801" y="524" width="3" height="10" fill="#e05a46"/>
<rect x="809" y="521" width="1" height="22" fill="#737373"/>
<rect x="807" y="527" width="5" height="8" fill="#1f5c3a"/>
<rect x="808" y="528" width="3" height="6" fill="#6aa984"/>
<rect x="817" y="511" width="1" height="22" fill="#737373"/>
<rect x="815" y="515" width="5" height="13" fill="#1f5c3a"/>
<rect x="816" y="516" width="3" height="11" fill="#6aa984"/>
<rect x="825" y="512" width="1" height="11" fill="#737373"/>
<rect x="823" y="516" width="5" height="3" fill="#5c1510"/>
<rect x="824" y="517" width="3" height="1" fill="#e05a46"/>
<rect x="832" y="506" width="1" height="26" fill="#737373"/>
<rect x="830" y="518" width="5" height="11" fill="#5c1510"/>
<rect x="831" y="519" width="3" height="9" fill="#e05a46"/>
<rect x="840" y="521" width="1" height="12" fill="#737373"/>
<rect x="838" y="524" width="5" height="5" fill="#1f5c3a"/>
<rect x="839" y="525" width="3" height="3" fill="#6aa984"/>
<rect x="848" y="522" width="1" height="7" fill="#737373"/>
<rect x="846" y="524" width="5" height="3" fill="#5c1510"/>
<rect x="847" y="525" width="3" height="1" fill="#e05a46"/>
<rect x="855" y="513" width="1" height="13" fill="#737373"/>
<rect x="853" y="514" width="5" height="12" fill="#1f5c3a"/>
<rect x="854" y="515" width="3" height="10" fill="#6aa984"/>
<rect x="863" y="474" width="1" height="40" fill="#737373"/>
<rect x="861" y="479" width="5" height="35" fill="#1f5c3a"/>
<rect x="862" y="480" width="3" height="33" fill="#6aa984"/>
<rect x="871" y="462" width="1" height="24" fill="#737373"/>
<rect x="869" y="469" width="5" height="10" fill="#1f5c3a"/>
<rect x="870" y="470" width="3" height="8" fill="#6aa984"/>
<rect x="878" y="465" width="1" height="19" fill="#737373"/>
<rect x="876" y="467" width="5" height="3" fill="#1f5c3a"/>
<rect x="877" y="468" width="3" height="1" fill="#6aa984"/>
<rect x="886" y="457" width="1" height="24" fill="#737373"/>
<rect x="884" y="467" width="5" height="3" fill="#5c1510"/>
<rect x="885" y="468" width="3" height="1" fill="#e05a46"/>
<rect x="894" y="460" width="1" height="27" fill="#737373"/>
<rect x="892" y="469" width="5" height="15" fill="#5c1510"/>
<rect x="893" y="470" width="3" height="13" fill="#e05a46"/>
<rect x="902" y="454" width="1" height="36" fill="#737373"/>
<rect x="900" y="462" width="5" height="22" fill="#1f5c3a"/>
<rect x="901" y="463" width="3" height="20" fill="#6aa984"/>
<rect x="909" y="458" width="1" height="20" fill="#737373"/>
<rect x="907" y="462" width="5" height="6" fill="#5c1510"/>
<rect x="908" y="463" width="3" height="4" fill="#e05a46"/>
<rect x="917" y="462" width="1" height="18" fill="#737373"/>
<rect x="915" y="467" width="5" height="11" fill="#5c1510"/>
<rect x="916" y="468" width="3" height="9" fill="#e05a46"/>
<rect x="925" y="471" width="1" height="32" fill="#737373"/>
<rect x="923" y="474" width="5" height="4" fill="#1f5c3a"/>
<rect x="924" y="475" width="3" height="2" fill="#6aa984"/>
<rect x="932" y="440" width="1" height="36" fill="#737373"/>
<rect x="930" y="448" width="5" height="27" fill="#1f5c3a"/>
<rect x="931" y="449" width="3" height="25" fill="#6aa984"/>
<rect x="940" y="438" width="1" height="19" fill="#737373"/>
<rect x="938" y="448" width="5" height="1" fill="#5c1510"/>
<rect x="948" y="440" width="1" height="21" fill="#737373"/>
<rect x="946" y="447" width="5" height="3" fill="#1f5c3a"/>
<rect x="947" y="448" width="3" height="1" fill="#6aa984"/>
<rect x="955" y="427" width="1" height="24" fill="#737373"/>
<rect x="953" y="438" width="5" height="8" fill="#1f5c3a"/>
<rect x="954" y="439" width="3" height="6" fill="#6aa984"/>
<rect x="963" y="400" width="1" height="40" fill="#737373"/>
<rect x="961" y="403" width="5" height="35" fill="#1f5c3a"/>
<rect x="962" y="404" width="3" height="33" fill="#6aa984"/>
<rect x="971" y="403" width="1" height="39" fill="#737373"/>
<rect x="969" y="403" width="5" height="35" fill="#5c1510"/>
<rect x="970" y="404" width="3" height="33" fill="#e05a46"/>
<rect x="978" y="424" width="1" height="24" fill="#737373"/>
<rect x="976" y="437" width="5" height="1" fill="#1f5c3a"/>
<rect x="986" y="416" width="1" height="29" fill="#737373"/>
<rect x="984" y="436" width="5" height="1" fill="#1f5c3a"/>
<rect x="994" y="433" width="1" height="20" fill="#737373"/>
<rect x="992" y="436" width="5" height="10" fill="#5c1510"/>
<rect x="993" y="437" width="3" height="8" fill="#e05a46"/>
<rect x="1001" y="440" width="1" height="11" fill="#737373"/>
<rect x="999" y="445" width="5" height="1" fill="#1f5c3a"/>
<rect x="1009" y="430" width="1" height="21" fill="#737373"/>
<rect x="1007" y="431" width="5" height="14" fill="#1f5c3a"/>
<rect x="1008" y="432" width="3" height="12" fill="#6aa984"/>
<rect x="1017" y="429" width="1" height="12" fill="#737373"/>
<rect x="1015" y="431" width="5" height="4" fill="#5c1510"/>
<rect x="1016" y="432" width="3" height="2" fill="#e05a46"/>
<rect x="1024" y="433" width="1" height="24" fill="#737373"/>
<rect x="1022" y="434" width="5" height="18" fill="#5c1510"/>
<rect x="1023" y="435" width="3" height="16" fill="#e05a46"/>
<rect x="1032" y="450" width="1" height="20" fill="#737373"/>
<rect x="1030" y="452" width="5" height="6" fill="#5c1510"/>
<rect x="1031" y="453" width="3" height="4" fill="#e05a46"/>
<rect x="1040" y="428" width="1" height="31" fill="#737373"/>
<rect x="1038" y="433" width="5" height="25" fill="#1f5c3a"/>
<rect x="1039" y="434" width="3" height="23" fill="#6aa984"/>
<rect x="1048" y="425" width="1" height="19" fill="#737373"/>
<rect x="1046" y="428" width="5" height="6" fill="#1f5c3a"/>
<rect x="1047" y="429" width="3" height="4" fill="#6aa984"/>
<rect x="1055" y="422" width="1" height="20" fill="#737373"/>
<rect x="1053" y="428" width="5" height="9" fill="#5c1510"/>
<rect x="1054" y="429" width="3" height="7" fill="#e05a46"/>
<rect x="1063" y="415" width="1" height="23" fill="#737373"/>
<rect x="1061" y="429" width="5" height="8" fill="#1f5c3a"/>
<rect x="1062" y="430" width="3" height="6" fill="#6aa984"/>
<rect x="1071" y="428" width="1" height="10" fill="#737373"/>
<rect x="1069" y="430" width="5" height="4" fill="#5c1510"/>
<rect x="1070" y="431" width="3" height="2" fill="#e05a46"/>
<rect x="1078" y="434" width="1" height="8" fill="#737373"/>
<rect x="1076" y="434" width="5" height="4" fill="#5c1510"/>
<rect x="1077" y="435" width="3" height="2" fill="#e05a46"/>
<rect x="1086" y="435" width="1" height="9" fill="#737373"/>
<rect x="1084" y="438" width="5" height="4" fill="#5c1510"/>
<rect x="1085" y="439" width="3" height="2" fill="#e05a46"/>
<rect x="1094" y="436" width="1" height="10" fill="#737373"/>
<rect x="1092" y="441" width="5" height="1" fill="#1f5c3a"/>
<rect x="1101" y="439" width="1" height="41" fill="#737373"/>
<rect x="1099" y="441" width="5" height="21" fill="#5c1510"/>
<rect x="1100" y="442" width="3" height="19" fill="#e05a46"/>
<rect x="1109" y="459" width="1" height="16" fill="#737373"/>
<rect x="1107" y="462" width="5" height="3" fill="#5c1510"/>
<rect x="1108" y="463" width="3" height="1" fill="#e05a46"/>
<rect x="1117" y="453" width="1" height="19" fill="#737373"/>
<rect x="1115" y="465" width="5" height="3" fill="#5c1510"/>
<rect x="1116" y="466" width="3" height="1" fill="#e05a46"/>
<rect x="1124" y="462" width="1" height="11" fill="#737373"/>
<rect x="1122" y="468" width="5" height="3" fill="#5c1510"/>
<rect x="1123" y="469" width="3" height="1" fill="#e05a46"/>
<rect x="1132" y="466" width="1" height="16" fill="#737373"/>
<rect x="1130" y="469" width="5" height="1" fill="#1f5c3a"/>
<rect x="1140" y="464" width="1" height="13" fill="#737373"/>
<rect x="1138" y="469" width="5" height="7" fill="#5c1510"/>
<rect x="1139" y="470" width="3" height="5" fill="#e05a46"/>
<rect x="1147" y="452" width="1" height="26" fill="#737373"/>
<rect x="1145" y="455" width="5" height="21" fill="#1f5c3a"/>
<rect x="1146" y="456" width="3" height="19" fill="#6aa984"/>
<rect x="1155" y="453" width="1" height="19" fill="#737373"/>
<rect x="1153" y="455" width="5" height="13" fill="#5c1510"/>
<rect x="1154" y="456" width="3" height="11" fill="#e05a46"/>
<rect x="1163" y="467" width="1" height="16" fill="#737373"/>
<rect x="1161" y="468" width="5" height="11" fill="#5c1510"/>
<rect x="1162" y="469" width="3" height="9" fill="#e05a46"/>
<rect x="1170" y="463" width="1" height="17" fill="#737373"/>
<rect x="1168" y="464" width="5" height="15" fill="#1f5c3a"/>
<rect x="1169" y="465" width="3" height="13" fill="#6aa984"/>
<rect x="1178" y="437" width="1" height="27" fill="#737373"/>
<rect x="1176" y="446" width="5" height="18" fill="#1f5c3a"/>
<rect x="1177" y="447" width="3" height="16" fill="#6aa984"/>
<rect x="1186" y="431" width="1" height="18" fill="#737373"/>
<rect x="1184" y="433" width="5" height="13" fill="#1f5c3a"/>
<rect x="1185" y="434" width="3" height="11" fill="#6aa984"/>
<rect x="1193" y="401" width="1" height="38" fill="#737373"/>
<rect x="1191" y="413" width="5" height="21" fill="#1f5c3a"/>
<rect x="1192" y="414" width="3" height="19" fill="#6aa984"/>
<rect x="1201" y="404" width="1" height="28" fill="#737373"/>
<rect x="1199" y="413" width="5" height="6" fill="#5c1510"/>
<rect x="1200" y="414" width="3" height="4" fill="#e05a46"/>
<rect x="1209" y="401" width="1" height="27" fill="#737373"/>
<rect x="1207" y="411" width="5" height="7" fill="#1f5c3a"/>
<rect x="1208" y="412" width="3" height="5" fill="#6aa984"/>
<rect x="1217" y="390" width="1" height="31" fill="#737373"/>
<rect x="1215" y="393" width="5" height="18" fill="#1f5c3a"/>
<rect x="1216" y="394" width="3" height="16" fill="#6aa984"/>
<rect x="1224" y="365" width="1" height="29" fill="#737373"/>
<rect x="1222" y="372" width="5" height="22" fill="#1f5c3a"/>
<rect x="1223" y="373" width="3" height="20" fill="#6aa984"/>
<rect x="1232" y="372" width="1" height="28" fill="#737373"/>
<rect x="1230" y="372" width="5" height="22" fill="#5c1510"/>
<rect x="1231" y="373" width="3" height="20" fill="#e05a46"/>
<rect x="1240" y="374" width="1" height="30" fill="#737373"/>
<rect x="1238" y="384" width="5" height="10" fill="#1f5c3a"/>
<rect x="1239" y="385" width="3" height="8" fill="#6aa984"/>
<rect x="1247" y="360" width="1" height="35" fill="#737373"/>
<rect x="1245" y="382" width="5" height="3" fill="#1f5c3a"/>
<rect x="1246" y="383" width="3" height="1" fill="#6aa984"/>
<rect x="1255" y="361" width="1" height="45" fill="#737373"/>
<rect x="1253" y="382" width="5" height="8" fill="#5c1510"/>
<rect x="1254" y="383" width="3" height="6" fill="#e05a46"/>
<rect x="1263" y="323" width="1" height="74" fill="#737373"/>
<rect x="1261" y="356" width="5" height="34" fill="#1f5c3a"/>
<rect x="1262" y="357" width="3" height="32" fill="#6aa984"/>
<rect x="1270" y="337" width="1" height="27" fill="#737373"/>
<rect x="1268" y="356" width="5" height="3" fill="#5c1510"/>
<rect x="1269" y="357" width="3" height="1" fill="#e05a46"/>
<rect x="1278" y="357" width="1" height="40" fill="#737373"/>
<rect x="1276" y="358" width="5" height="28" fill="#5c1510"/>
<rect x="1277" y="359" width="3" height="26" fill="#e05a46"/>
<rect x="1286" y="367" width="1" height="21" fill="#737373"/>
<rect x="1284" y="381" width="5" height="5" fill="#1f5c3a"/>
<rect x="1285" y="382" width="3" height="3" fill="#6aa984"/>
<rect x="1293" y="347" width="1" height="36" fill="#737373"/>
<rect x="1291" y="351" width="5" height="31" fill="#1f5c3a"/>
<rect x="1292" y="352" width="3" height="29" fill="#6aa984"/>
<rect x="1301" y="300" width="1" height="56" fill="#737373"/>
<rect x="1299" y="302" width="5" height="50" fill="#1f5c3a"/>
<rect x="1300" y="303" width="3" height="48" fill="#6aa984"/>
<rect x="1309" y="270" width="1" height="35" fill="#737373"/>
<rect x="1307" y="271" width="5" height="31" fill="#1f5c3a"/>
<rect x="1308" y="272" width="3" height="29" fill="#6aa984"/>
<rect x="1316" y="249" width="1" height="32" fill="#737373"/>
<rect x="1314" y="256" width="5" height="16" fill="#1f5c3a"/>
<rect x="1315" y="257" width="3" height="14" fill="#6aa984"/>
<line x1="2" y1="256.5" x2="1395" y2="256.5" stroke="#4f9a6e" stroke-width="1" stroke-dasharray="1 2"/>
</svg>
<div id="ov">
<div class="abs" style="left:1396px;top:2px;width:59px;height:830px;background:#fff"></div>
<div class="ax" style="top:45.2px">4750.0</div>
<div class="ax" style="top:78.2px">4500.0</div>
<div class="ax" style="top:112.2px">4250.0</div>
<div class="ax" style="top:145.2px">4000.0</div>
<div class="ax" style="top:179.2px">3750.0</div>
<div class="ax" style="top:212.2px">3500.0</div>
<div class="ax" style="top:245.2px">3250.0</div>
<div class="ax" style="top:279.2px">3000.0</div>
<div class="ax" style="top:312.2px">2750.0</div>
<div class="ax" style="top:345.2px">2500.0</div>
<div class="ax" style="top:379.2px">2250.0</div>
<div class="ax" style="top:412.2px">2000.0</div>
<div class="ax" style="top:446.2px">1750.0</div>
<div class="ax" style="top:479.2px">1500.0</div>
<div class="ax" style="top:512.2px">1250.0</div>
<div class="ax" style="top:546.2px">1000.0</div>
<div class="ax" style="top:579.2px">750.0</div>
<div class="ax" style="top:612.2px">500.0</div>
<div class="ax" style="top:646.2px">250.0</div>
<div class="ax" style="top:728.5px">200.00</div>
<div class="ax" style="top:759.0px">0.00</div>
<div class="ax" style="top:790.0px">−200.00</div>
<div class="lb" style="top:29.0px;width:49px">4860.1</div>
<div class="lb" style="top:200.0px;width:49px">3582.2</div>
<div class="lb" style="top:393.2px;width:49px">2140.1</div>
<div class="lb" style="top:410.0px;width:49px">2031.6</div>
<div class="lb" style="top:442.0px;width:49px">1770.2</div>
<div class="lb" style="top:459.0px;width:49px">1676.5</div>
<div class="lb" style="top:475.8px;width:49px">1622.0</div>
<div class="lb" style="top:498.0px;width:49px">1352.0</div>
<div class="lb" style="top:561.1px;width:43px">880.0</div>
<div class="lb" style="top:578.3px;width:43px">874.3</div>
<div class="abs" style="left:1396px;top:2px;width:59px;height:34px;background:#fff"></div>
<div class="abs" style="left:1399px;top:6px;width:50px;height:24px;border:1px solid #e0e3eb;border-radius:5px;background:#fff;box-sizing:content-box"></div>
<div class="abs" style="left:1403px;top:11px;font-size:12.5px;line-height:14px;color:#131722;letter-spacing:-1.1px">USD</div>
<svg class="abs" style="left:1439px;top:15px" width="10" height="8" viewBox="0 0 10 8"><path d="M2 2 L4.6 4.6 L7.2 2" fill="none" stroke="#131722" stroke-width="1.4"/></svg>
<div class="abs" style="left:1395px;top:2px;width:1px;height:830px;background:#363a45"></div>
<div class="abs" style="left:2px;top:803px;width:1453px;height:1px;background:#363a45"></div>
<div class="tx" style="left:26px">2021</div>
<div class="tx" style="left:126px">Apr</div>
<div class="tx" style="left:226px">Jul</div>
<div class="tx" style="left:326px">Oct</div>
<div class="tx" style="left:426px">2022</div>
<div class="tx" style="left:526px">Apr</div>
<div class="tx" style="left:626px">Jul</div>
<div class="tx" style="left:726px">Oct</div>
<div class="tx" style="left:825px">2023</div>
<div class="tx" style="left:925px">Apr</div>
<div class="tx" style="left:1025px">Jul</div>
<div class="tx" style="left:1125px">Oct</div>
<div class="tx" style="left:1225px">2024</div>
<div class="tx" style="left:1325px">Apr</div>
<svg class="abs" style="left:1416px;top:807px" width="20" height="20" viewBox="0 0 20 20"><path d="M6.6 4.2 L13.4 4.2 L17 10.2 L13.4 16.2 L6.6 16.2 L3 10.2 Z" fill="#fff" stroke="#131722" stroke-width="1.1"/><circle cx="10" cy="10.2" r="2.2" fill="none" stroke="#131722" stroke-width="1.1"/></svg>
<div class="abs" style="left:11px;top:9px;width:19px;height:19px;border-radius:50%;background:#edf0fb"></div>
<svg class="abs" style="left:15px;top:11px" width="11" height="16" viewBox="0 0 11 16"><path d="M5.5 0.5 L10.3 8 L5.5 10.8 L0.7 8 Z" fill="#8c8ce6"/><path d="M5.5 0.5 L5.5 10.8 L0.7 8 Z" fill="#b4b4f0"/><path d="M5.5 11.8 L10.3 9 L5.5 15.5 L0.7 9 Z" fill="#8c8ce6"/></svg>
<div class="abs" style="left:33px;top:9px;font-size:15.5px;line-height:19px;color:#4a4a4a;letter-spacing:0.27px">Ethereum</div>
<div class="abs" style="left:106px;top:9px;font-size:15.5px;line-height:19px;color:#4a4a4a;letter-spacing:0px">/</div>
<div class="abs" style="left:120px;top:9px;font-size:15.5px;line-height:19px;color:#4a4a4a;letter-spacing:0.15px">U.S.</div>
<div class="abs" style="left:155px;top:9px;font-size:15.5px;line-height:19px;color:#4a4a4a;letter-spacing:0.15px">Dollar</div>
<div class="abs" style="left:202.3px;top:9px;font-size:15.5px;line-height:19px;color:#4a4a4a;letter-spacing:0px">·</div>
<div class="abs" style="left:210px;top:9px;font-size:15.5px;line-height:19px;color:#4a4a4a;letter-spacing:-0.5px">1W</div>
<div class="abs" style="left:235.8px;top:9px;font-size:15.5px;line-height:19px;color:#4a4a4a;letter-spacing:0px">·</div>
<div class="abs" style="left:243px;top:9px;font-size:15.5px;line-height:19px;color:#4a4a4a;letter-spacing:-1.04px">BITSTAMP</div>
<div class="abs" style="left:326px;top:9px;width:18px;height:18px;border-radius:50%;background:#d9f0ea"></div>
<div class="abs" style="left:331px;top:14px;width:8px;height:8px;border-radius:50%;background:#089981"></div>
<div class="abs" style="left:361px;top:12px;font-size:12.5px;line-height:15px;color:#2f6b4d;letter-spacing:0.12px;word-spacing:2px"><span style="color:#666">O</span>3112.7 <span style="color:#666">H</span>3275.0 <span style="color:#666">L</span>3037.1 <span style="color:#666">C</span>3225.2 +112.9 (+3.63%)</div>
<div class="abs" style="left:8px;top:33px;width:146px;height:26px;background:rgba(255,255,255,0.5)"></div>
<div class="abs" style="left:10px;top:34px;width:53px;height:22px;border:1px solid #f23645;border-radius:4px;background:#fff;color:#f23645;font-size:12px;line-height:25.5px;text-align:center;letter-spacing:0.45px">3224.0</div>
<div class="abs" style="left:72.8px;top:39px;font-size:11px;line-height:15px;color:#222;letter-spacing:0.3px">0.5</div>
<div class="abs" style="left:96px;top:34px;width:53px;height:22px;border:1px solid #2962ff;border-radius:4px;background:#fff;color:#2962ff;font-size:12px;line-height:25.5px;text-align:center;letter-spacing:0.45px">3224.5</div>
<div class="abs" style="left:8px;top:64px;width:540px;height:22px;background:rgba(255,255,255,0.62)"></div>
<div class="abs" style="left:11px;top:68px;font-size:12px;line-height:15px;color:#5e5e5e;letter-spacing:0.06px">MA Ribbon SMA close 20 SMA close 50 SMA close 100 SMA close 200</div>
<div class="abs" style="left:402.5px;top:68px;font-size:12px;line-height:15px;color:#f23645;letter-spacing:0.2px">2309.2</div>
<div class="abs" style="left:448.5px;top:68px;font-size:12px;line-height:15px;color:#2962ff;letter-spacing:0.2px">1999.7</div>
<div class="abs" style="left:493px;top:68px;font-size:11px;line-height:15px;color:#333">Ø</div>
<div class="abs" style="left:507.5px;top:68px;font-size:12px;line-height:15px;color:#222;letter-spacing:0.2px">1896.5</div>
<div class="abs" style="left:11px;top:88.5px;width:27px;height:18px;border:1px solid #d5d8e0;border-radius:4px;background:#fff"></div>
<svg class="abs" style="left:19px;top:94px" width="12" height="10" viewBox="0 0 12 10"><path d="M2.2 6.8 L6.2 2.8 L10.2 6.8" fill="none" stroke="#222" stroke-width="1.4"/></svg>
<div class="abs" style="left:8px;top:695px;width:114px;height:18px;background:rgba(255,255,255,0.7)"></div>
<div class="abs" style="left:11px;top:697px;font-size:12px;line-height:15px;color:#555;letter-spacing:-0.25px">ATR 14 RMA <span style="color:#b22833;margin-left:5.5px;letter-spacing:0.5px">240.6</span></div>
<div class="abs" style="left:8px;top:725px;width:156px;height:18px;background:rgba(255,255,255,0.7)"></div>
<div class="abs" style="left:11px;top:727px;font-size:12px;line-height:15px;color:#555;letter-spacing:0.02px">CCI 20 hlc3 SMA 5 <span style="color:#2962ff;margin-left:5px;letter-spacing:0.45px">221.10</span></div>
<div class="abs" style="left:12px;top:772px;width:35px;height:19px;background:#fff"></div>
<svg class="abs" style="left:14px;top:774px" width="31" height="15" viewBox="0 0 31 15"><path d="M0 0 H12 V15 H6 V6 H0 Z" fill="#131722"/><circle cx="16.5" cy="3.2" r="3.2" fill="#131722"/><path d="M23.5 0 H31 L24.5 15 H17 Z" fill="#131722"/></svg>
<svg class="abs" style="left:0;top:0" width="1457" height="834" viewBox="0 0 1457 834"><defs><filter id="bl" x="-5%" y="-5%" width="110%" height="110%"><feGaussianBlur stdDeviation="0.8"/></filter><clipPath id="cp"><rect x="0" y="0" width="1455" height="832"/></clipPath></defs><g clip-path="url(#cp)"><g fill="none" stroke="#222" stroke-opacity="0.6" stroke-width="8" transform="translate(1.8,1.8)" filter="url(#bl)"><g transform="translate(1231,742) skewX(-16) scale(0.86,1)"><path d="M4,4 L13,9"/><path d="M2,20 L11,25"/><path d="M2,53 L12,36"/><path d="M25,0 L19,10"/><path d="M19,9 L56,9"/><path d="M24,12 L22,48"/><path d="M22,18 L53,18 L51,47 Q50,54 41,54"/><path d="M13,32 L58,32"/><path d="M22,46 L50,46"/><path d="M36,21 L38,28"/><path d="M35,36 L37,43"/></g><g transform="translate(1290,742) skewX(-16) scale(0.86,1)"><path d="M7,6 L47,6 L45,26"/><path d="M14,6 L12,26 L55,26 L52,49 Q51,55 41,54"/><path d="M1,40 L47,40"/></g><g transform="translate(1352,742) skewX(-16) scale(0.86,1)"><path d="M6,4 L27,4 L27,36"/><path d="M6,1 L6,36"/><path d="M17,8 L17,30"/><path d="M14,33 L2,54"/><path d="M21,37 L29,52"/><path d="M32,16 L59,16"/><path d="M49,0 L49,47 Q49,54 40,53"/><path d="M47,19 L32,43"/></g><g transform="translate(1413,742) skewX(-16) scale(0.86,1)"><path d="M14,0 L4,16 L17,16 L4,32 L21,30"/><path d="M2,50 L21,44"/><path d="M26,6 L54,6 L30,28"/><path d="M38,16 L59,29"/><path d="M30,35 L57,35"/><path d="M43,35 L43,52"/><path d="M26,52 L59,52"/></g></g><g fill="none" stroke="#fff" stroke-opacity="0.92" stroke-width="8"><g transform="translate(1231,742) skewX(-16) scale(0.86,1)"><path d="M4,4 L13,9"/><path d="M2,20 L11,25"/><path d="M2,53 L12,36"/><path d="M25,0 L19,10"/><path d="M19,9 L56,9"/><path d="M24,12 L22,48"/><path d="M22,18 L53,18 L51,47 Q50,54 41,54"/><path d="M13,32 L58,32"/><path d="M22,46 L50,46"/><path d="M36,21 L38,28"/><path d="M35,36 L37,43"/></g><g transform="translate(1290,742) skewX(-16) scale(0.86,1)"><path d="M7,6 L47,6 L45,26"/><path d="M14,6 L12,26 L55,26 L52,49 Q51,55 41,54"/><path d="M1,40 L47,40"/></g><g transform="translate(1352,742) skewX(-16) scale(0.86,1)"><path d="M6,4 L27,4 L27,36"/><path d="M6,1 L6,36"/><path d="M17,8 L17,30"/><path d="M14,33 L2,54"/><path d="M21,37 L29,52"/><path d="M32,16 L59,16"/><path d="M49,0 L49,47 Q49,54 40,53"/><path d="M47,19 L32,43"/></g><g transform="translate(1413,742) skewX(-16) scale(0.86,1)"><path d="M14,0 L4,16 L17,16 L4,32 L21,30"/><path d="M2,50 L21,44"/><path d="M26,6 L54,6 L30,28"/><path d="M38,16 L59,29"/><path d="M30,35 L57,35"/><path d="M43,35 L43,52"/><path d="M26,52 L59,52"/></g></g></g></svg>
<svg class="abs" style="left:0;top:0" width="1457" height="834" viewBox="0 0 1457 834"><g font-family="Liberation Sans, sans-serif" font-style="italic" font-weight="bold" font-size="33" fill="#3f72ee" fill-opacity="0.62" stroke="#3f72ee" stroke-opacity="0.62" stroke-width="1.6" stroke-linejoin="round" paint-order="stroke"><text x="1222" y="829">z</text><text x="1249" y="829">z</text><text x="1277.5" y="829">r</text><text x="1300" y="829">t</text><text x="1322" y="829">0</text><text x="1354" y="829">1</text><text x="1378" y="829">.</text><text x="1398" y="829">c</text><text x="1426" y="829">n</text></g></svg>
<div class="abs" style="left:0;top:0;width:1457px;height:2px;background:#e0e3eb"></div>
<div class="abs" style="left:0;top:0;width:2px;height:834px;background:#e0e3eb"></div>
<div class="abs" style="left:1455px;top:0;width:2px;height:834px;background:#e0e3eb"></div>
<div class="abs" style="left:0;top:832px;width:1457px;height:2px;background:#e0e3eb"></div>
</div>
</body></html>
